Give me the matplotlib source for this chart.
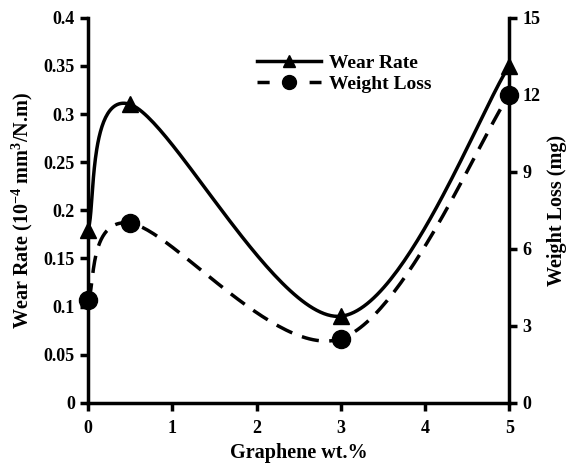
import numpy as np
import matplotlib.pyplot as plt
from matplotlib.lines import Line2D

plt.rcParams['font.family'] = ['Liberation Serif', 'DejaVu Serif']
plt.rcParams['font.weight'] = 'bold'
plt.rcParams['mathtext.fontset'] = 'custom'
plt.rcParams['mathtext.rm'] = 'Liberation Serif:bold'
plt.rcParams['mathtext.bf'] = 'Liberation Serif:bold'
plt.rcParams['mathtext.default'] = 'bf'

graphene = [0, 0.5, 3, 5]
wear_rate = [0.18, 0.31, 0.09, 0.35]
weight_loss = [4, 7, 2.5, 12]


def smooth(xs, ys, xspan, yspan, aspect, n=60):
    # Excel-style smoothed line: Bezier segments built in screen proportions
    p = np.column_stack([np.array(xs) / xspan * aspect, np.array(ys) / yspan])
    p = np.vstack([p[0], p, p[-1]])
    out = []
    t = np.linspace(0, 1, n)[:, None]
    for i in range(1, len(p) - 2):
        a, b = p[i], p[i + 1]
        c1 = a + (b - p[i - 1]) / 6
        c2 = b - (p[i + 2] - a) / 6
        seg = (1 - t) ** 3 * a + 3 * (1 - t) ** 2 * t * c1 + 3 * (1 - t) * t ** 2 * c2 + t ** 3 * b
        out.append(seg)
    out = np.vstack(out)
    return out[:, 0] / aspect * xspan, out[:, 1] * yspan


fig = plt.figure(figsize=(5.8, 4.69), dpi=100)
ax = fig.add_axes([0.152, 0.141, 0.726, 0.821])
ax2 = ax.twinx()

aspect = 0.726 * 5.8 / (0.821 * 4.69)
sx, sy = smooth(graphene, wear_rate, 5, 0.4, aspect)
ax.plot(sx, sy, color='black', lw=2.5)
ax.plot(graphene, wear_rate, '^', color='black', ms=12, clip_on=False)

wx, wy = smooth(graphene, weight_loss, 5, 15, aspect)
ax2.plot(wx, wy, color='black', lw=2.5, dashes=(5, 3))
ax2.plot(graphene, weight_loss, 'o', color='black', ms=13, clip_on=False)

ax.set_xlim(0, 5)
ax.set_ylim(0, 0.4)
ax2.set_ylim(0, 15)
ax.set_xticks(range(6))
ax.set_yticks(np.arange(0, 0.41, 0.05))
ax.set_yticklabels(['0', '0.05', '0.1', '0.15', '0.2', '0.25', '0.3', '0.35', '0.4'])
ax2.set_yticks(range(0, 16, 3))

for a in (ax, ax2):
    a.spines['top'].set_visible(False)
    for s in a.spines.values():
        s.set_linewidth(2.5)
    a.tick_params(width=2.5, length=6, labelsize=13, direction='out')
ax.tick_params(axis='x', pad=6)
ax.spines['right'].set_visible(False)
ax2.spines['left'].set_visible(False)
ax2.spines['bottom'].set_visible(False)

ax.set_xlabel('Graphene wt.%', fontsize=14.5, fontweight='bold', labelpad=5)
ax.set_ylabel('Wear Rate (10$^{-4}$ mm$^{3}$/N.m)', fontsize=14.5, fontweight='bold', labelpad=6)
ax2.set_ylabel('Weight Loss (mg)', fontsize=14.5, fontweight='bold', labelpad=5)

handles = [Line2D([], [], color='black', lw=2.5, marker='^', ms=9),
           Line2D([], [], color='black', lw=2.5, dashes=(3.5, 4), marker='o', ms=10)]
ax.legend(handles, ['Wear Rate', 'Weight Loss'], loc='upper left', bbox_to_anchor=(0.36, 0.95),
          frameon=False, handlelength=3.3, handletextpad=0.4, labelspacing=0.15,
          prop={'weight': 'bold', 'size': 14})

fig.savefig('out.png', dpi=100)
